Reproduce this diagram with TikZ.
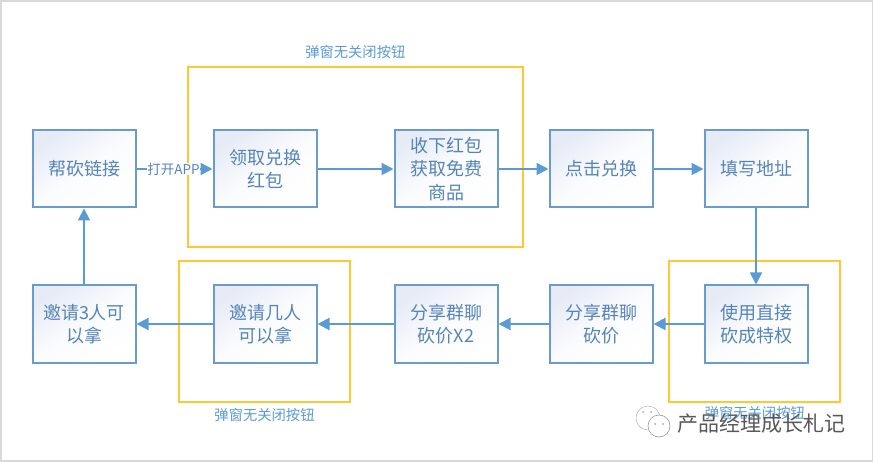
\documentclass[tikz,border=0pt]{standalone}
\usepackage{fontspec}
\newfontfamily\cjk{Noto Sans CJK SC}
\usetikzlibrary{arrows.meta,positioning}
\definecolor{boxblue}{HTML}{6A9BCB}
\definecolor{flowblue}{HTML}{5B9BD5}
\definecolor{boxtext}{HTML}{5585B8}
\definecolor{popyellow}{HTML}{FFC832}
\definecolor{boxtint}{HTML}{E6EBF6}
\definecolor{framegrey}{HTML}{D9D9D9}
\tikzset{
    stepbox/.style={draw=boxblue,line width=2pt,minimum width=103pt,minimum height=77pt,
        inner sep=0pt,align=center,text=boxtext,top color=boxtint,bottom color=white,
        middle color=boxtint!18!white,shading angle=35,
        font=\cjk\fontsize{18}{23.5}\selectfont},
    popbox/.style={draw=popyellow,line width=2pt,inner sep=0pt},
    poplabel/.style={text=flowblue,inner sep=0pt,font=\cjk\fontsize{14.3}{16}\selectfont},
    flow/.style={draw=flowblue,line width=2pt,-{Triangle[length=12pt,width=12pt]}}
}
\begin{document}
\begin{tikzpicture}[x=1pt,y=1pt]
    \useasboundingbox (0,0) rectangle (873,-462);
    \fill[framegrey] (0,0) rectangle (873,-462);
    \fill[white] (2,-2) rectangle (871.5,-460);
    % pop-up frames, behind the flow
    \node [popbox,minimum width=334.6pt,minimum height=180pt] (popa) at (355.3,-156.7) {};
    \node [popbox,minimum width=171pt,minimum height=141pt] (popb) at (264.5,-331.5) {};
    \node [popbox,minimum width=171pt,minimum height=141pt] (popc) at (754.8,-331.4) {};
    % upper row
    \node [stepbox] (link) at (84,-169) {帮砍链接};
    \node [stepbox,right=76pt of link] (claim) {领取兑换\\红包};
    \node [stepbox,right=76pt of claim] (accept) {收下红包\\获取免费\\商品};
    \node [stepbox,right=50pt of accept] (redeem) {点击兑换};
    \node [stepbox,right=50pt of redeem] (address) {填写地址};
    % lower row
    \node [stepbox,below=76pt of address] (privilege) {使用直接\\砍成特权};
    \node [stepbox,left=50pt of privilege] (share) {分享群聊\\砍价};
    \node [stepbox,left=50pt of share] (sharetwo) {分享群聊\\砍价X2};
    \node [stepbox,left=76pt of sharetwo] (invite) {邀请几人\\可以拿};
    \node [stepbox,left=76pt of invite] (invitethree) {邀请3人可\\以拿};
    \draw [flow] (link) -- node [fill=white,inner sep=0pt,text=boxtext,font=\cjk\fontsize{13.5}{15}\selectfont,xshift=-1pt] (openapp) {打开APP} (claim);
    \draw [flow] (claim) -- (accept);
    \draw [flow] (accept) -- (redeem);
    \draw [flow] (redeem) -- (address);
    \draw [flow] (address) -- (privilege);
    \draw [flow] (privilege) -- (share);
    \draw [flow] (share) -- (sharetwo);
    \draw [flow] (sharetwo) -- (invite);
    \draw [flow] (invite) -- (invitethree);
    \draw [flow] (invitethree) -- (link);
    % labels of the pop-up frames
    \node [poplabel,above=7pt of popa] (popalabel) {弹窗无关闭按钮};
    \node [poplabel,below=5pt of popb] (popblabel) {弹窗无关闭按钮};
    \node [poplabel,below=3pt of popc] (popclabel) {弹窗无关闭按钮};
    % mark in the corner
    \draw [gray!60,line width=.5pt,fill=white] (648,-418) circle [radius=12pt];
    \draw [gray!80,line width=.6pt,fill=white] (659,-426) circle [radius=11pt];
    \fill [gray!70] (655,-424) circle [radius=1pt] (663,-424) circle [radius=1pt]
        (643,-412) circle [radius=1pt] (651,-412) circle [radius=1pt];
    \node [text=black!65,inner sep=0pt,anchor=west,font=\cjk\fontsize{21}{23}\selectfont] (mark) at (677,-424) {产品经理成长札记};
\end{tikzpicture}
\end{document}
